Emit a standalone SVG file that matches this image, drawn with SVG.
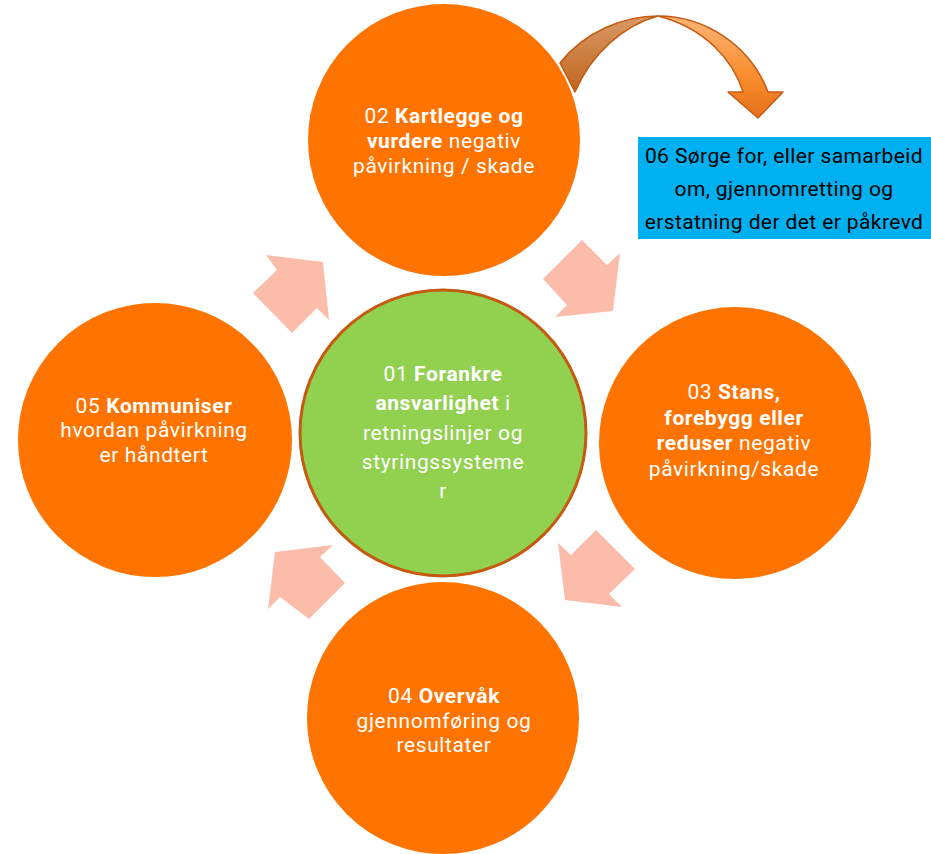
<svg xmlns="http://www.w3.org/2000/svg" width="931" height="854" viewBox="0 0 931 854">
<defs>
<style>
.oc{fill:#ff7300;stroke:#ffffff;stroke-width:2}
.gc{fill:#92d050;stroke:#c55a11;stroke-width:3}
.t{font-family:Roboto,"Liberation Sans",sans-serif;font-size:21px;letter-spacing:0.6px;fill:#ffffff;text-anchor:middle}
.b{font-weight:bold}
.bt{font-family:Roboto,"Liberation Sans",sans-serif;font-size:21px;letter-spacing:0.4px;fill:#000000;text-anchor:middle}
.pa{fill:#fcbcaa}
</style>
<linearGradient id="gl" x1="0" y1="0" x2="0" y2="1">
<stop offset="0" stop-color="#d99a66"/>
<stop offset="1" stop-color="#c0651f"/>
</linearGradient>
<linearGradient id="gr" x1="0" y1="0" x2="0" y2="1">
<stop offset="0" stop-color="#fcb577"/>
<stop offset="0.6" stop-color="#f98c2c"/>
<stop offset="1" stop-color="#e4701a"/>
</linearGradient>
</defs>
<rect width="931" height="854" fill="#ffffff"/>
<g id="connectors">
<polygon class="pa" points="582,240 607,265 620,253 613,311 555,317 567,305 543,279"/>
<polygon class="pa" points="596,530 635,569 609,594 622,607 565,600 558,543 571,555"/>
<polygon class="pa" points="275,552 333,545 320,557 345,583 309,619 280,597 268,609"/>
<polygon class="pa" points="266,255 323,262 329,320 317,308 292,333 253,293 277,270"/>
</g>
<g id="node02">
<circle class="oc" cx="444" cy="140" r="137"/>
<text class="t" x="444" y="123">02 <tspan class="b">Kartlegge og</tspan></text>
<text class="t" x="444" y="148"><tspan class="b">vurdere</tspan> negativ</text>
<text class="t" x="444" y="173">påvirkning / skade</text>
</g>
<g id="curved-arrow">
<path d="M560,63 C585,31 625,16 658,16 C625,25 592,52 575,92 Z" fill="url(#gl)" stroke="#c55a11" stroke-width="1.5" stroke-linejoin="round"/>
<path d="M658,16 C705,16 750,45 768,92 L783,92 L758,118 L728,92 L743,92 C733,60 705,28 658,16 Z" fill="url(#gr)" stroke="#c55a11" stroke-width="1.5" stroke-linejoin="round"/>
</g>
<g id="node06">
<rect x="638" y="137" width="293" height="102" fill="#00b0f0"/>
<text class="bt" x="784" y="163">06 Sørge for, eller samarbeid</text>
<text class="bt" x="784" y="196">om, gjennomretting og</text>
<text class="bt" x="784" y="229">erstatning der det er påkrevd</text>
</g>
<g id="node01">
<circle class="gc" cx="443" cy="433" r="143"/>
<text class="t" x="443" y="381">01 <tspan class="b">Forankre</tspan></text>
<text class="t" x="443" y="410"><tspan class="b">ansvarlighet</tspan> i</text>
<text class="t" x="443" y="440">retningslinjer og</text>
<text class="t" x="443" y="469">styringssysteme</text>
<text class="t" x="443" y="498">r</text>
</g>
<g id="node03">
<circle class="oc" cx="735" cy="443" r="137"/>
<text class="t" x="734" y="399">03 <tspan class="b">Stans,</tspan></text>
<text class="t b" x="734" y="425">forebygg eller</text>
<text class="t" x="734" y="450"><tspan class="b">reduser</tspan> negativ</text>
<text class="t" x="734" y="476">påvirkning/skade</text>
</g>
<g id="node05">
<circle class="oc" cx="155" cy="440" r="138"/>
<text class="t" x="154" y="413">05 <tspan class="b">Kommuniser</tspan></text>
<text class="t" x="154" y="437">hvordan påvirkning</text>
<text class="t" x="154" y="462">er håndtert</text>
</g>
<g id="node04">
<circle class="oc" cx="443" cy="718" r="137"/>
<text class="t" x="444" y="703">04 <tspan class="b">Overvåk</tspan></text>
<text class="t" x="444" y="728">gjennomføring og</text>
<text class="t" x="444" y="752">resultater</text>
</g>
</svg>
